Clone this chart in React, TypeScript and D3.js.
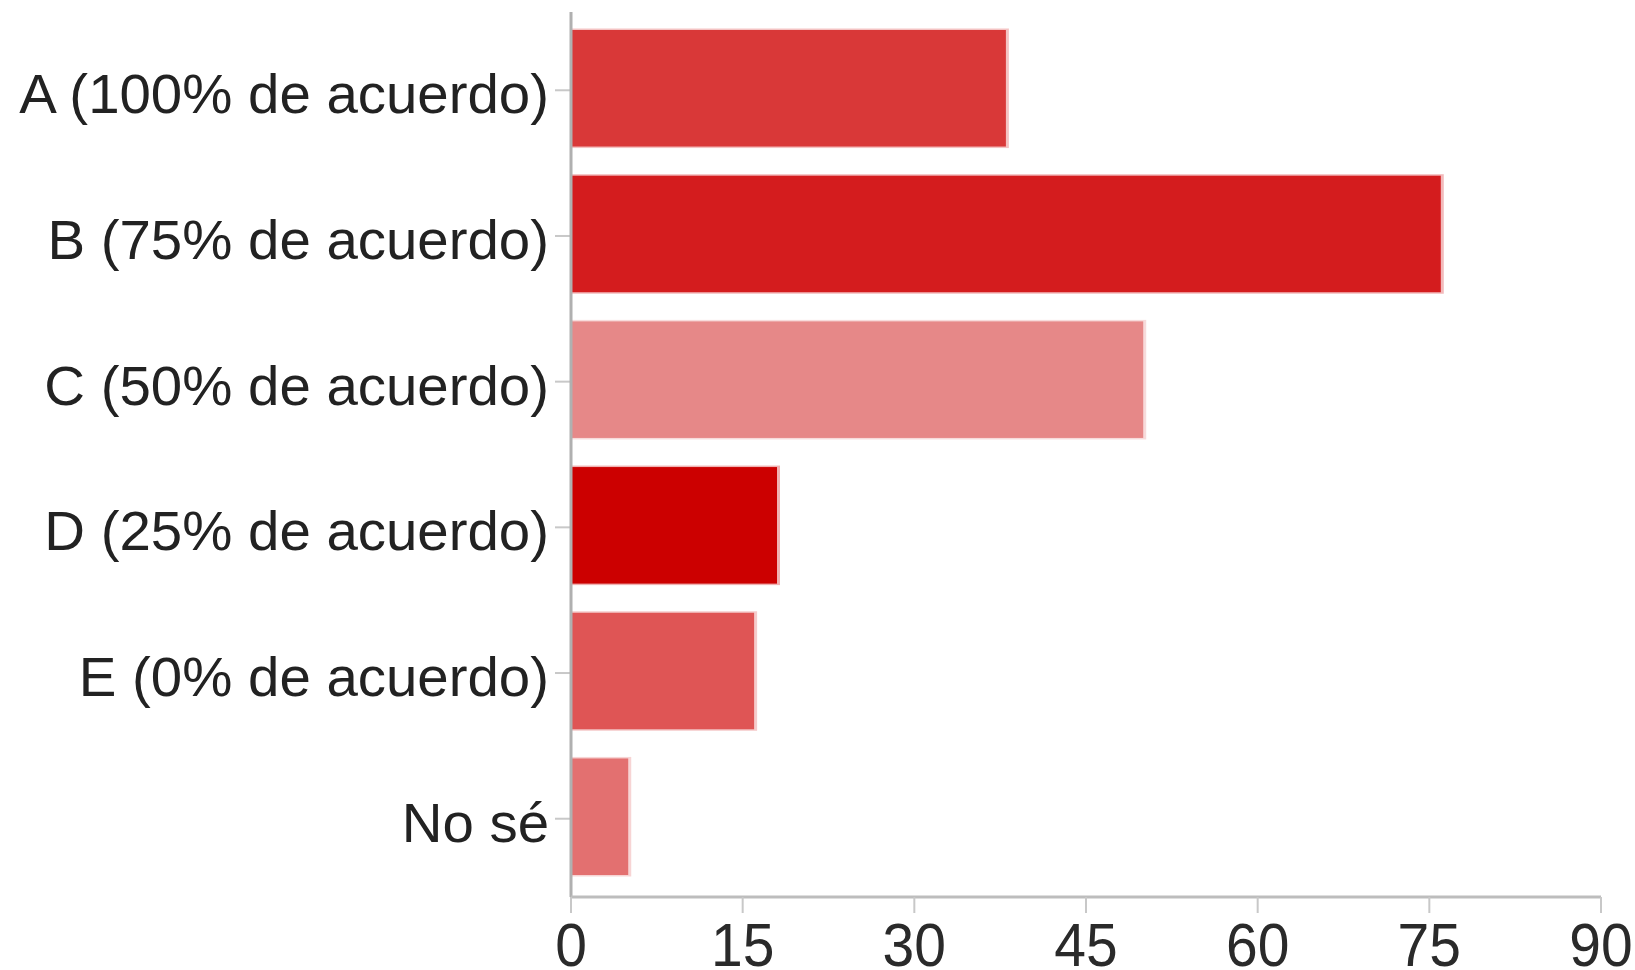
import React from "react";
import * as d3 from "d3";

const categories = [
  "A (100% de acuerdo)",
  "B (75% de acuerdo)",
  "C (50% de acuerdo)",
  "D (25% de acuerdo)",
  "E (0% de acuerdo)",
  "No sé",
];
const values = [38, 76, 50, 18, 16, 5];
const colors = ["#d93838", "#d41c1e", "#e68888", "#cc0000", "#df5555", "#e37070"];
const xTicks = [0, 15, 30, 45, 60, 75, 90];

export default function App() {
  const W = 1635;
  const H = 970;
  const x0 = 571;
  const x1 = 1601;
  const axisTop = 12;
  const axisY = 897;

  const x = d3.scaleLinear().domain([0, 90]).range([x0, x1]);
  const y = d3
    .scaleBand<string>()
    .domain(categories)
    .range([30, 875])
    .paddingInner(0.2)
    .paddingOuter(0);

  const font = "'Liberation Sans', Arial, sans-serif";

  return (
    <svg
      width={W}
      height={H}
      style={{ position: "absolute", left: 0, top: 0, background: "#fff" }}
    >
      {/* bars */}
      {categories.map((c, i) => {
        const top = y(c)!;
        const bw = y.bandwidth();
        const w = x(values[i]) - x(0);
        return (
          <g key={c}>
            <rect
              x={x(0)}
              y={top - 1.5}
              width={w + 3}
              height={bw + 3}
              fill={colors[i]}
              opacity={0.3}
            />
            <rect x={x(0) + 1} y={top} width={w - 1} height={bw} fill={colors[i]} />
          </g>
        );
      })}

      {/* y axis ticks */}
      {categories.map((c) => {
        const cy = y(c)! + y.bandwidth() / 2 + 2;
        return (
          <line
            key={"t" + c}
            x1={555}
            x2={x0}
            y1={cy}
            y2={cy}
            stroke="#c8c8c8"
            strokeWidth={2}
          />
        );
      })}

      {/* y labels */}
      {categories.map((c) => {
        const cy = y(c)! + y.bandwidth() / 2;
        return (
          <text
            key={"l" + c}
            x={549}
            y={cy + 25}
            textAnchor="end"
            fontFamily={font}
            fontSize={56.4}
            fill="#222"
          >
            {c}
          </text>
        );
      })}

      {/* y axis line */}
      <line x1={x0} x2={x0} y1={axisTop} y2={axisY} stroke="#b0b0b0" strokeWidth={3} />

      {/* x axis */}
      <line x1={x0} x2={x1} y1={axisY} y2={axisY} stroke="#bdbdbd" strokeWidth={3} />
      {xTicks.map((t) => (
        <g key={"x" + t}>
          <line
            x1={x(t)}
            x2={x(t)}
            y1={axisY}
            y2={913}
            stroke="#c8c8c8"
            strokeWidth={2}
          />
          <text
            transform={`translate(${x(t)},966) scale(0.92,1)`}
            textAnchor="middle"
            fontFamily={font}
            fontSize={62}
            fill="#2a2a2a"
          >
            {t}
          </text>
        </g>
      ))}
    </svg>
  );
}
